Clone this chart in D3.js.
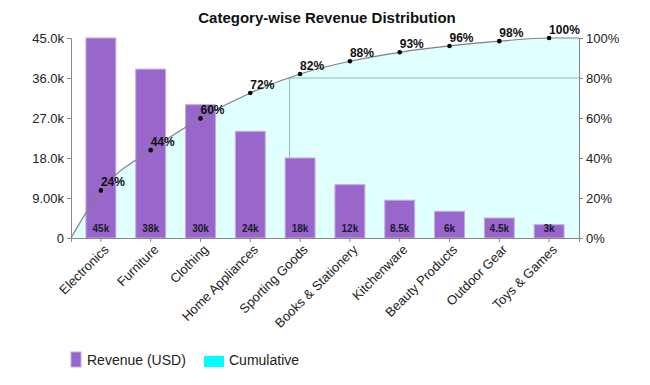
<!DOCTYPE html>
<html>
<head>
<meta charset="UTF-8">
<title>Category-wise Revenue Distribution</title>
<script src="https://cdn.jsdelivr.net/npm/d3@7"></script>
<style>
    body { margin: 0; background: #fff; font-family: "Liberation Sans", Arial, sans-serif; }
    .axis text { font-size: 13px; fill: #222; }
    .axis path, .axis line { stroke: #888; }
</style>
</head>
<body>
<div id="chart"></div>
<script>
    // chart data
    const categories = ["Electronics", "Furniture", "Clothing", "Home Appliances", "Sporting Goods",
        "Books & Stationery", "Kitchenware", "Beauty Products", "Outdoor Gear", "Toys & Games"];
    const revenue = [45000, 38000, 30000, 24000, 18000, 12000, 8500, 6000, 4500, 3000];
    const barLabels = ["45k", "38k", "30k", "24k", "18k", "12k", "8.5k", "6k", "4.5k", "3k"];
    const revenueTicks = [0, 9000, 18000, 27000, 36000, 45000];
    const percentTicks = [0, 20, 40, 60, 80, 100];

    const width = 650, height = 385;
    const margin = {top: 38, right: 71, bottom: 147, left: 71};
    const plotW = width - margin.left - margin.right;
    const plotH = height - margin.top - margin.bottom;

    const svg = d3.select("#chart").append("svg")
        .attr("width", width).attr("height", height);
    const g = svg.append("g").attr("transform", `translate(${margin.left},${margin.top})`);

    const x = d3.scaleBand().domain(categories).range([0, plotW])
        .paddingInner(0.4).paddingOuter(0.3);
    const y = d3.scaleLinear().domain([0, 45000]).range([plotH, 0]);
    const yPct = d3.scaleLinear().domain([0, 100]).range([plotH, 0]);

    // cumulative share of revenue
    const total = d3.sum(revenue);
    let running = 0;
    const cumulative = revenue.map(v => { running += v; return running / total * 100; });
    const cx = c => x(c) + x.bandwidth() / 2;

    const pts = [[0, 0]].concat(categories.map((c, i) => [cx(c), cumulative[i]]), [[plotW, 100]]);

    // cumulative area
    g.append("path")
        .datum(pts)
        .attr("fill", "#e0ffff")
        .attr("d", d3.area().x(d => d[0]).y0(plotH).y1(d => yPct(d[1])).curve(d3.curveMonotoneX));

    // 80% marker: where the curve crosses 80
    let k = cumulative.findIndex(v => v >= 80);
    const x0 = cx(categories[k - 1]), x1 = cx(categories[k]);
    const xs = x0 + (80 - cumulative[k - 1]) / (cumulative[k] - cumulative[k - 1]) * (x1 - x0);
    g.append("line").attr("stroke", "#8fbcbc")
        .attr("x1", xs).attr("x2", xs).attr("y1", yPct(80)).attr("y2", plotH);
    g.append("line").attr("stroke", "#8fbcbc")
        .attr("x1", xs).attr("x2", plotW).attr("y1", yPct(80)).attr("y2", yPct(80));

    // bars
    g.selectAll("rect.bar").data(revenue).enter().append("rect")
        .attr("class", "bar")
        .attr("x", (d, i) => x(categories[i]))
        .attr("width", x.bandwidth())
        .attr("y", d => y(d))
        .attr("height", d => plotH - y(d))
        .attr("fill", "#9966cc")
        .attr("stroke", "#c5a8e8").attr("stroke-width", 1);

    g.selectAll("text.barlabel").data(barLabels).enter().append("text")
        .attr("x", (d, i) => cx(categories[i]))
        .attr("y", plotH - 6)
        .attr("text-anchor", "middle")
        .attr("font-size", "10px").attr("font-weight", "bold").attr("fill", "#1a1a2e")
        .text(d => d);

    // cumulative line and dots
    g.append("path")
        .datum(pts.slice(0, pts.length))
        .attr("fill", "none").attr("stroke", "#808080").attr("stroke-width", 1.2)
        .attr("d", d3.line().x(d => d[0]).y(d => yPct(d[1])).curve(d3.curveMonotoneX));

    g.selectAll("circle.dot").data(cumulative).enter().append("circle")
        .attr("cx", (d, i) => cx(categories[i]))
        .attr("cy", d => yPct(d))
        .attr("r", 2.3).attr("fill", "#000");

    g.selectAll("text.pct").data(cumulative).enter().append("text")
        .attr("x", (d, i) => cx(categories[i]))
        .attr("y", d => yPct(d) - 4)
        .attr("font-size", "12px").attr("font-weight", "bold").attr("fill", "#111")
        .text(d => Math.round(d) + "%");

    // axes
    g.append("g").attr("class", "axis")
        .call(d3.axisLeft(y).tickValues(revenueTicks).tickSize(4)
            .tickFormat(d => d === 0 ? "0" : d3.format(".3s")(d)));

    g.append("g").attr("class", "axis")
        .attr("transform", `translate(${plotW},0)`)
        .call(d3.axisRight(yPct).tickValues(percentTicks).tickSize(4).tickFormat(d => d + "%"));

    const xAxis = g.append("g").attr("class", "axis")
        .attr("transform", `translate(0,${plotH})`)
        .call(d3.axisBottom(x).tickSizeOuter(0).tickSize(4));
    xAxis.selectAll("text")
        .attr("font-size", "11px")
        .attr("fill", "#333")
        .attr("text-anchor", "end")
        .attr("dx", "-0.2em").attr("dy", "0.6em")
        .attr("transform", "rotate(-45)");

    // title
    svg.append("text")
        .attr("x", 327).attr("y", 23)
        .attr("text-anchor", "middle")
        .attr("font-size", "15px").attr("font-weight", "bold").attr("fill", "#111")
        .text("Category-wise Revenue Distribution");

    // legend
    const legend = svg.append("g").attr("transform", "translate(71,352)");
    legend.append("rect").attr("width", 10).attr("height", 15)
        .attr("fill", "#9966cc").attr("stroke", "#c5a8e8");
    legend.append("text").attr("x", 16).attr("y", 12.5)
        .attr("font-size", "14px").attr("fill", "#222").text("Revenue (USD)");
    legend.append("rect").attr("x", 133).attr("y", 4).attr("width", 20).attr("height", 11)
        .attr("fill", "#00ffff");
    legend.append("text").attr("x", 158).attr("y", 12.5)
        .attr("font-size", "14px").attr("fill", "#222").text("Cumulative");
</script>
</body>
</html>
